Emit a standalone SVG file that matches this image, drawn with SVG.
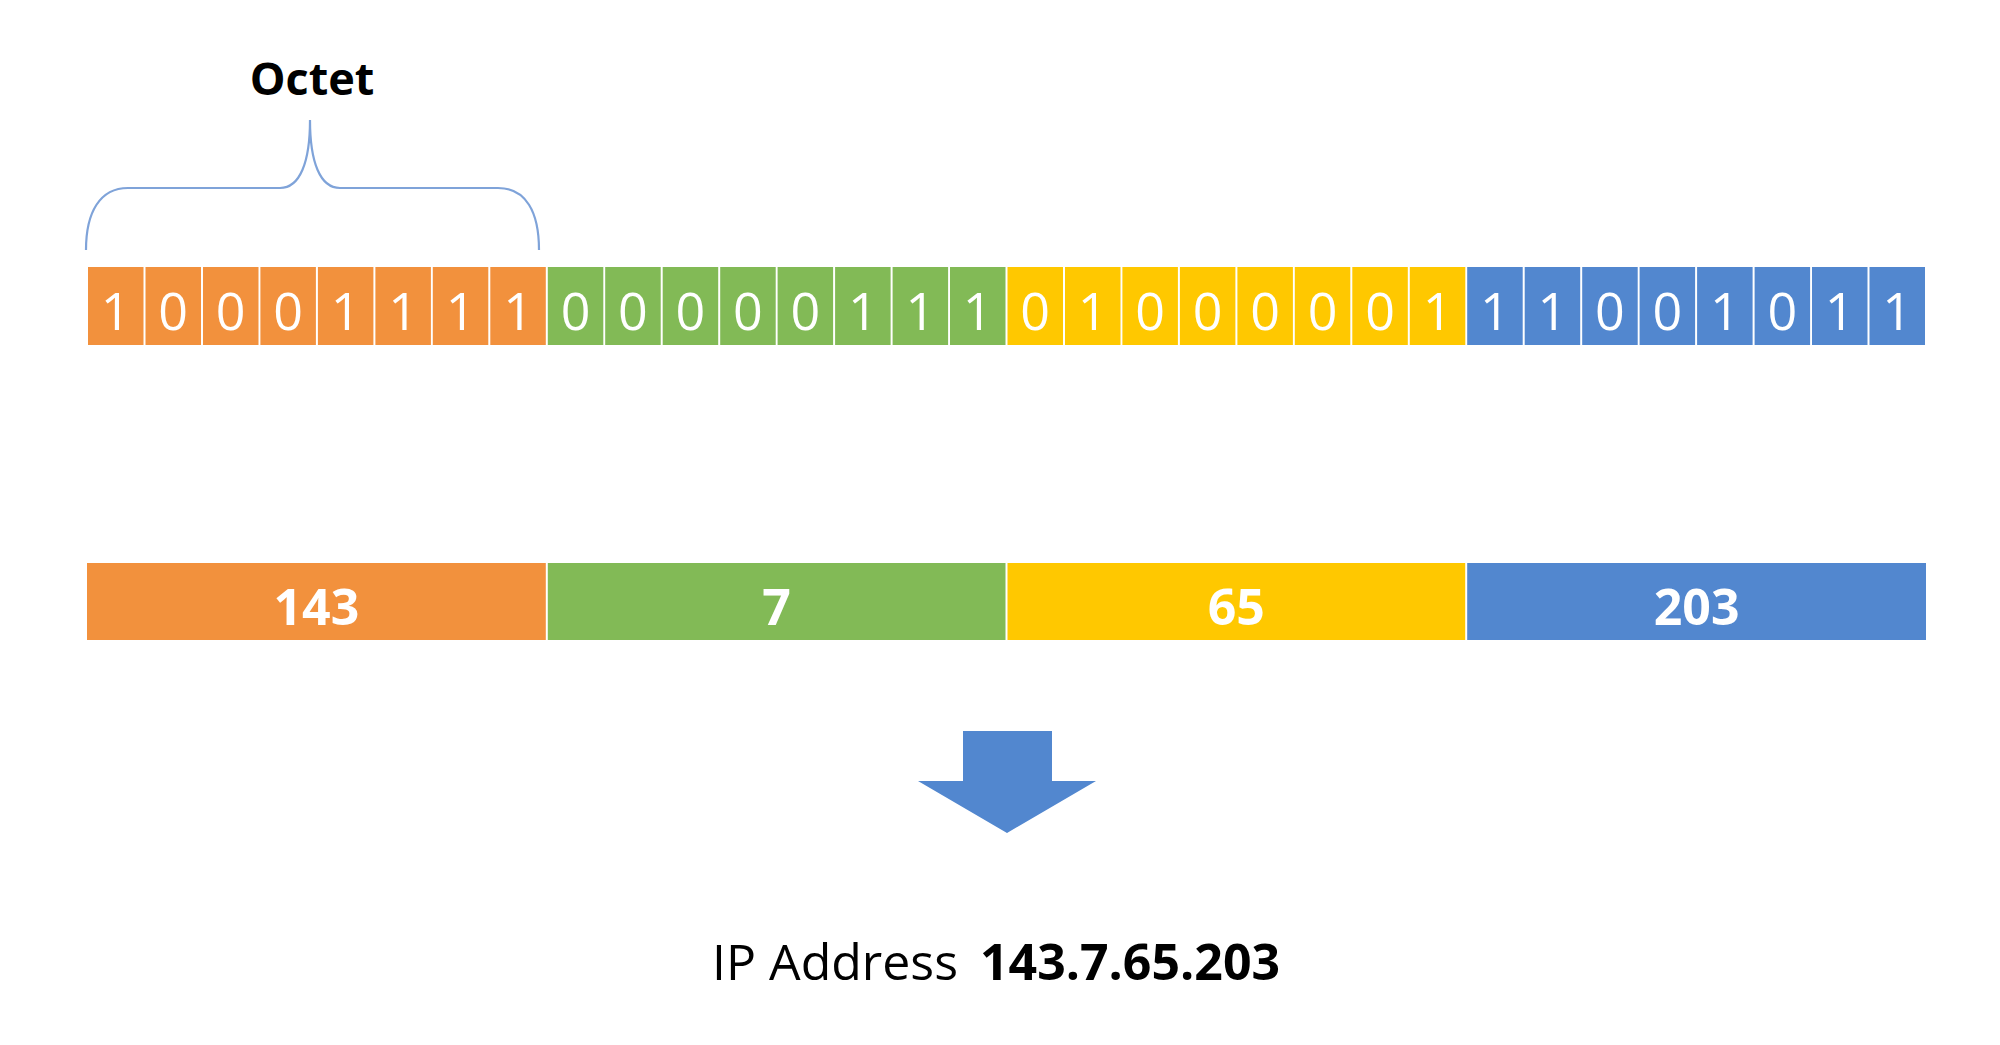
<svg xmlns="http://www.w3.org/2000/svg" width="2000" height="1045" viewBox="0 0 2000 1045">
<style>
.o{fill:#F2913D}.g{fill:#82BA56}.y{fill:#FFC800}.b{fill:#5287CF}
.bit{font-family:"Open Sans","Noto Sans",sans-serif;font-size:52px;fill:#fff;text-anchor:middle}
.num{font-family:"Open Sans","Noto Sans",sans-serif;font-size:50px;font-weight:bold;fill:#fff;text-anchor:middle}
.lbl{font-family:"Open Sans","Noto Sans",sans-serif;fill:#000}
</style>
<rect width="2000" height="1045" fill="#fff"/>
<g id="octet-label">
<text class="lbl" x="312" y="95" font-size="45" font-weight="bold" text-anchor="middle">Octet</text>
<path d="M86,250 C86,212 100,188 128,188 L280,188 C300,188 310,162 310,120 C310,162 320,188 340,188 L498,188 C526,188 539,212 539,250" fill="none" stroke="#7FA3D9" stroke-width="2.2"/>
</g>
<g id="bits">
<g id="octet1">
<rect class="o" x="88" y="267" width="55.5" height="78"/><rect class="o" x="145.5" y="267" width="55.5" height="78"/><rect class="o" x="203" y="267" width="55.5" height="78"/><rect class="o" x="260.4" y="267" width="55.5" height="78"/><rect class="o" x="317.9" y="267" width="55.5" height="78"/><rect class="o" x="375.4" y="267" width="55.5" height="78"/><rect class="o" x="432.8" y="267" width="55.5" height="78"/><rect class="o" x="490.3" y="267" width="55.5" height="78"/>
<text class="bit" y="330"><tspan x="115.7">1</tspan><tspan x="173.2">0</tspan><tspan x="230.7">0</tspan><tspan x="288.1">0</tspan><tspan x="345.6">1</tspan><tspan x="403.1">1</tspan><tspan x="460.5">1</tspan><tspan x="518">1</tspan></text>
</g>
<g id="octet2">
<rect class="g" x="547.8" y="267" width="55.5" height="78"/><rect class="g" x="605.2" y="267" width="55.5" height="78"/><rect class="g" x="662.7" y="267" width="55.5" height="78"/><rect class="g" x="720.2" y="267" width="55.5" height="78"/><rect class="g" x="777.6" y="267" width="55.5" height="78"/><rect class="g" x="835.1" y="267" width="55.5" height="78"/><rect class="g" x="892.6" y="267" width="55.5" height="78"/><rect class="g" x="950" y="267" width="55.5" height="78"/>
<text class="bit" y="330"><tspan x="575.5">0</tspan><tspan x="632.9">0</tspan><tspan x="690.4">0</tspan><tspan x="747.9">0</tspan><tspan x="805.3">0</tspan><tspan x="862.8">1</tspan><tspan x="920.3">1</tspan><tspan x="977.7">1</tspan></text>
</g>
<g id="octet3">
<rect class="y" x="1007.5" y="267" width="55.5" height="78"/><rect class="y" x="1065" y="267" width="55.5" height="78"/><rect class="y" x="1122.4" y="267" width="55.5" height="78"/><rect class="y" x="1179.9" y="267" width="55.5" height="78"/><rect class="y" x="1237.4" y="267" width="55.5" height="78"/><rect class="y" x="1294.8" y="267" width="55.5" height="78"/><rect class="y" x="1352.3" y="267" width="55.5" height="78"/><rect class="y" x="1409.8" y="267" width="55.5" height="78"/>
<text class="bit" y="330"><tspan x="1035.2">0</tspan><tspan x="1092.7">1</tspan><tspan x="1150.1">0</tspan><tspan x="1207.6">0</tspan><tspan x="1265.1">0</tspan><tspan x="1322.5">0</tspan><tspan x="1380">0</tspan><tspan x="1437.5">1</tspan></text>
</g>
<g id="octet4">
<rect class="b" x="1467.2" y="267" width="55.5" height="78"/><rect class="b" x="1524.7" y="267" width="55.5" height="78"/><rect class="b" x="1582.2" y="267" width="55.5" height="78"/><rect class="b" x="1639.6" y="267" width="55.5" height="78"/><rect class="b" x="1697.1" y="267" width="55.5" height="78"/><rect class="b" x="1754.6" y="267" width="55.5" height="78"/><rect class="b" x="1812" y="267" width="55.5" height="78"/><rect class="b" x="1869.5" y="267" width="55.5" height="78"/>
<text class="bit" y="330"><tspan x="1494.9">1</tspan><tspan x="1552.4">1</tspan><tspan x="1609.9">0</tspan><tspan x="1667.3">0</tspan><tspan x="1724.8">1</tspan><tspan x="1782.3">0</tspan><tspan x="1839.7">1</tspan><tspan x="1897.2">1</tspan></text>
</g>
</g>
<g id="decimals">
<g id="dec1"><rect class="o" x="87" y="563" width="458.8" height="77"/><text class="num" x="316.4" y="625">143</text></g>
<g id="dec2"><rect class="g" x="547.8" y="563" width="457.7" height="77"/><text class="num" x="776.6" y="625">7</text></g>
<g id="dec3"><rect class="y" x="1007.5" y="563" width="457.7" height="77"/><text class="num" x="1236.3" y="625">65</text></g>
<g id="dec4"><rect class="b" x="1467.2" y="563" width="458.8" height="77"/><text class="num" x="1696.6" y="625">203</text></g>
</g>
<g id="connectors">
<polygon class="b" points="963,731 1052,731 1052,781 1096,781 1007,833 918,781 963,781"/>
</g>
<g id="ip-address">
<text class="lbl" x="712" y="980" font-size="50">IP Address<tspan x="980" font-weight="bold">143.7.65.203</tspan></text>
</g>
</svg>
